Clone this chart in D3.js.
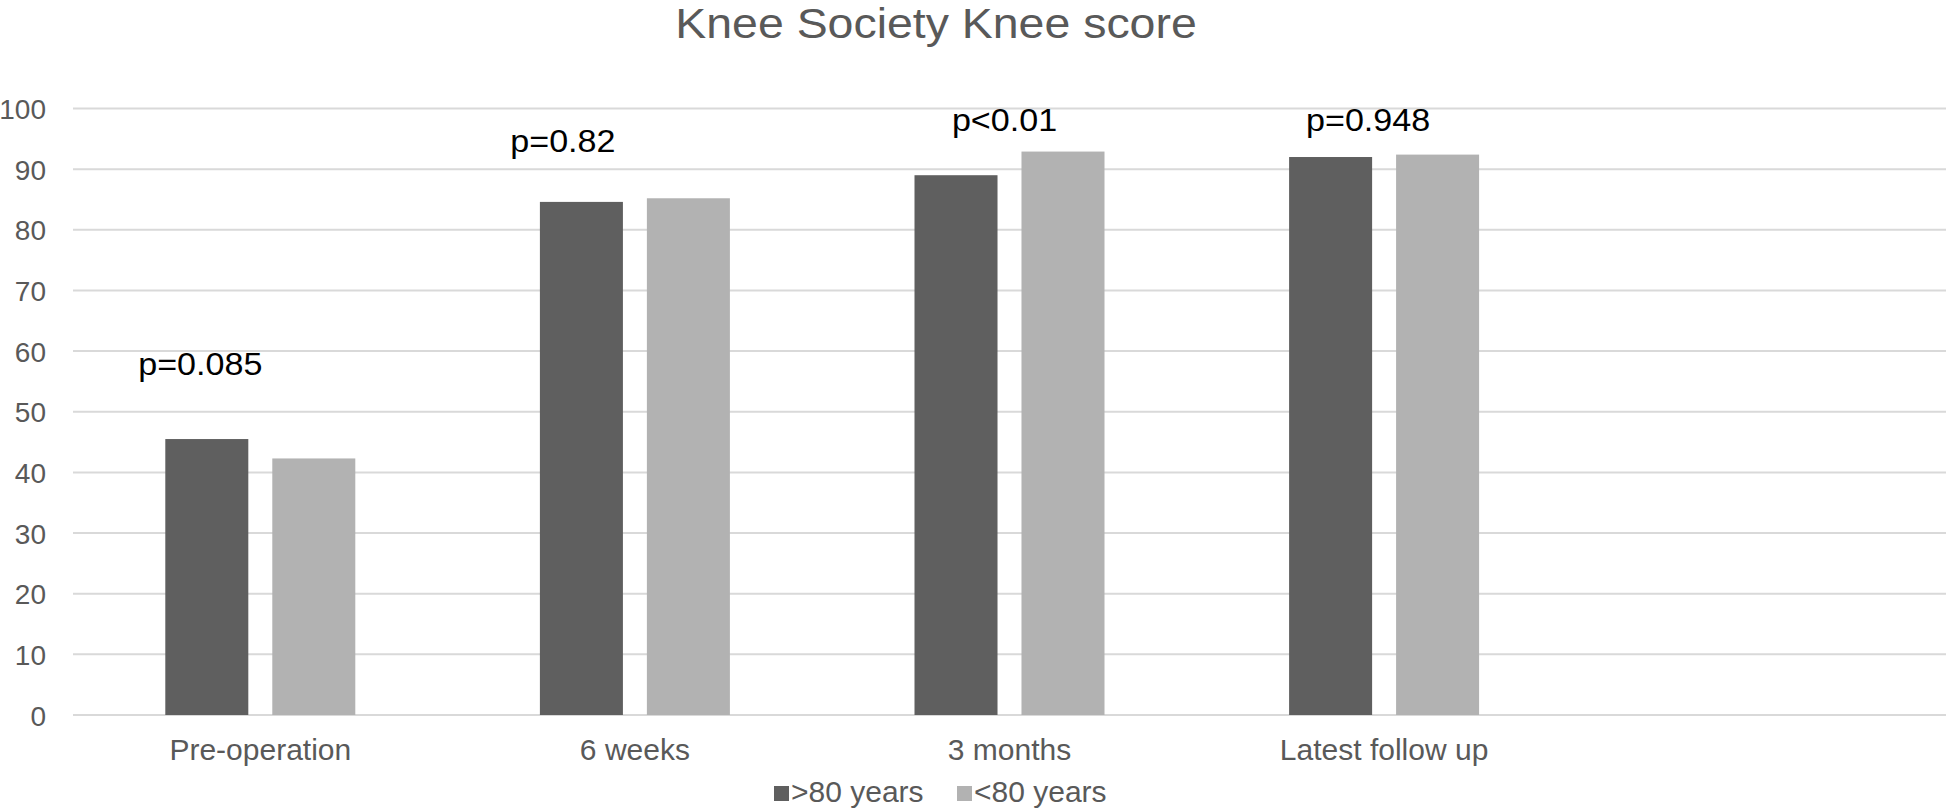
<!DOCTYPE html>
<html>
<head>
<meta charset="utf-8">
<script src="https://cdn.jsdelivr.net/npm/d3@7/dist/d3.min.js"></script>
<style>
  html, body { margin: 0; padding: 0; background: #ffffff; }
  svg { display: block; }
  text { font-family: "Liberation Sans", Arial, Helvetica, sans-serif; }
</style>
</head>
<body>
<svg id="chart" width="1946" height="808"></svg>
<script>
// ---- data ----
const categories = ["Pre-operation", "6 weeks", "3 months", "Latest follow up", ""];
const seriesNames = [">80 years", "<80 years"];
const over80 = [45.5, 84.6, 89.0, 92.0];
const under80 = [42.3, 85.2, 92.9, 92.4];
const pLabels = ["p=0.085", "p=0.82", "p<0.01", "p=0.948"];
const pLabelLevels = [56.1, 92.8, 96.3, 96.3];   // baseline level, in score units
const yTicks = [0, 10, 20, 30, 40, 50, 60, 70, 80, 90, 100];
const titleText = "Knee Society Knee score";

// ---- layout ----
const W = 1946, H = 808;
const plot = { left: 73, right: 1946, top: 108.5, bottom: 715 };
const colors = ["#5f5f5f", "#b2b2b2"];
const pLabelOffsets = [-60, -72, -5, -16];   // px shift from category centre

const svg = d3.select("#chart");

const x = d3.scaleBand().domain(categories).range([plot.left, plot.right]).paddingInner(0).paddingOuter(0);
const y = d3.scaleLinear().domain([0, 100]).range([plot.bottom, plot.top]);

const bw = x.bandwidth();
const barW = bw * 0.2216;
const gap = bw * 0.064;

// gridlines
svg.append("g")
  .selectAll("line")
  .data(yTicks)
  .join("line")
  .attr("x1", plot.left).attr("x2", plot.right)
  .attr("y1", d => y(d)).attr("y2", d => y(d))
  .attr("stroke", "#d9d9d9").attr("stroke-width", 2);

// y axis labels
const yAxis = d3.axisLeft(y).tickValues(yTicks).tickSize(0).tickPadding(0);
const gy = svg.append("g").attr("transform", `translate(46,0)`).call(yAxis);
gy.select(".domain").remove();
gy.selectAll("text")
  .attr("fill", "#595959")
  .style("font-size", "28px")
  .attr("dy", "0.36em")
  .attr("x", 0);

// x axis labels
const xAxis = d3.axisBottom(x).tickSize(0).tickPadding(0);
const gx = svg.append("g").attr("transform", `translate(0,760)`).call(xAxis);
gx.select(".domain").remove();
gx.selectAll("text")
  .attr("fill", "#595959")
  .style("font-size", "30px")
  .attr("dy", "0")
  .attr("y", 0);

// bars
const rows = categories.slice(0, over80.length).map((c, i) => ({ c, vals: [over80[i], under80[i]] }));
const groups = svg.append("g").selectAll("g")
  .data(rows)
  .join("g");
groups.selectAll("rect")
  .data(d => d.vals.map((v, j) => ({ c: d.c, v, j })))
  .join("rect")
  .attr("x", d => x(d.c) + bw / 2 + (d.j === 0 ? -gap / 2 - barW : gap / 2))
  .attr("width", barW)
  .attr("y", d => y(d.v))
  .attr("height", d => y(0) - y(d.v))
  .attr("fill", d => colors[d.j]);

// p-value annotations
svg.append("g").selectAll("text")
  .data(pLabels)
  .join("text")
  .attr("transform", (d, i) => `translate(${x(categories[i]) + bw / 2 + pLabelOffsets[i]},${y(pLabelLevels[i])}) scale(1.1,1)`)
  .attr("text-anchor", "middle")
  .attr("fill", "#000000")
  .style("font-size", "31px")
  .text(d => d);

// title
svg.append("text")
  .attr("transform", `translate(936,38) scale(1.08,1)`)
  .attr("text-anchor", "middle")
  .attr("fill", "#595959")
  .style("font-size", "43px")
  .text(titleText);

// legend
const legendItems = [
  { name: seriesNames[0], color: colors[0], sx: 774, tx: 791 },
  { name: seriesNames[1], color: colors[1], sx: 957, tx: 974 }
];
const lg = svg.append("g");
lg.selectAll("rect")
  .data(legendItems)
  .join("rect")
  .attr("x", d => d.sx).attr("y", 786)
  .attr("width", 15).attr("height", 15)
  .attr("fill", d => d.color);
lg.selectAll("text")
  .data(legendItems)
  .join("text")
  .attr("x", d => d.tx).attr("y", 802)
  .attr("fill", "#595959")
  .style("font-size", "30px")
  .text(d => d.name);
</script>
</body>
</html>
